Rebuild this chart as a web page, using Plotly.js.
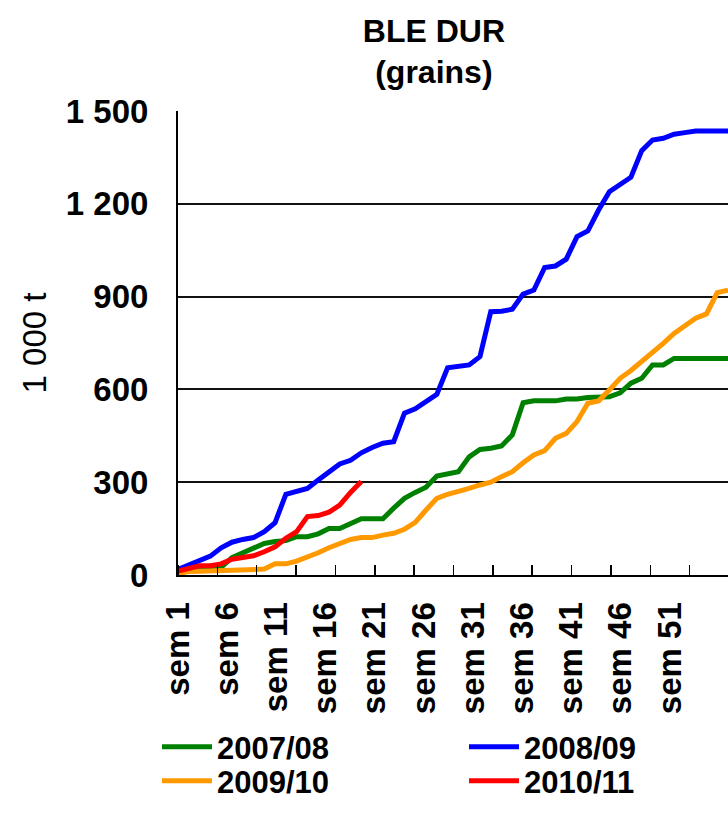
<!DOCTYPE html>
<html>
<head>
<meta charset="utf-8">
<script src="https://cdn.plot.ly/plotly-3.0.1.min.js"></script>
<style>html,body{margin:0;padding:0;background:#fff;}#chart{width:728px;height:823px;}</style>
</head>
<body>
<div id="chart"></div>
<script>
// Week index of each weekly point (data axis)
const weeks = [1,2,3,4,5,6,7,8,9,10,11,12,13,14,15,16,17,18,19,20,21,22,23,24,25,26,
  27,28,29,30,31,32,33,34,35,36,37,38,39,40,41,42,43,44,45,46,47,48,49,50,51,52];

// Cumulative values, 1 000 t
const s2007_08 = [10,18,22,24,25,56,72,88,102,108,111,124,124,133,150,150,164,182,182,182,
  216,248,267,284,320,326,334,382,406,410,417,453,557,563,563,563,569,569,574,576,
  576,589,620,636,679,679,700,700,700,700,700,700];
const s2008_09 = [18,32,45,61,88,106,115,121,140,169,261,272,280,307,331,359,371,395,412,426,
  431,523,537,560,584,670,673,679,706,851,853,859,908,921,994,999,1021,1094,1112,1180,
  1239,1261,1286,1372,1406,1412,1425,1430,1435,1435,1435,1435];
const s2009_10 = [5,11,12,13,14,14,19,19,19,36,36,45,57,72,88,102,115,121,121,129,
  135,148,170,210,248,261,269,280,291,300,318,334,363,388,402,442,458,496,555,563,
  598,636,661,690,717,749,781,805,830,844,913,921];
const s2010_11 = [13,21,30,30,36,51,56,62,75,91,119,140,189,192,203,226,267,302];

const seriesNames = ['2007/08','2008/09','2009/10','2010/11'];
const seriesColors = ['#008000','#0000FF','#FF9900','#FF0000'];

// Category axis labels
const labelVals = [1,6,11,16,21,26,31,36,41,46,51];
const labelText = ['sem 1','sem 6','sem 11','sem 16','sem 21','sem 26','sem 31','sem 36','sem 41','sem 46','sem 51'];

// Value axis ticks
const yVals = [0,300,600,900,1200,1500];
const yText = ['0','300','600','900','1 200','1 500'];

const FONT = 'Liberation Sans, Arial, sans-serif';
const allSeries = [s2007_08, s2008_09, s2009_10, s2010_11];
const legendIds = ['legend','legend','legend2','legend2'];

const traces = allSeries.map((ys, i) => ({
  type: 'scatter', mode: 'lines',
  x: weeks.slice(0, ys.length), y: ys,
  name: seriesNames[i],
  line: {color: seriesColors[i], width: 5},
  xaxis: 'x', yaxis: 'y',
  legend: legendIds[i],
  hoverinfo: 'skip'
}));
// empty trace attaching the label axis
traces.push({type:'scatter', mode:'lines', x: [], y: [], xaxis:'x2', yaxis:'y', showlegend:false});

const legendCommon = {
  orientation: 'h', xref: 'paper', yref: 'paper', x: -0.0382, xanchor: 'left',
  yanchor: 'middle', entrywidth: 242, itemwidth: 50,
  font: {family: FONT, size: 31, weight: 'bold', color: '#000'},
  bgcolor: 'rgba(0,0,0,0)', borderwidth: 0, traceorder: 'normal'
};

const layout = {
  width: 728, height: 823,
  margin: {l: 178, r: 0, t: 111, b: 248, autoexpand: false},
  paper_bgcolor: '#fff', plot_bgcolor: '#fff',
  font: {family: FONT, color: '#000'},
  title: {
    text: 'BLE DUR<br>(grains)',
    font: {family: FONT, size: 32, weight: 'bold', color: '#000'},
    xref: 'container', x: 0.596, xanchor: 'center',
    yref: 'container', y: 0.9495, yanchor: 'top'
  },
  xaxis: {
    range: [1, 52], visible: false, fixedrange: true
  },
  xaxis2: {
    overlaying: 'x', anchor: 'y', side: 'bottom',
    range: [1, 56.9], tickmode: 'array', tickvals: labelVals, ticktext: labelText,
    tickangle: -90, ticks: '', showgrid: false, zeroline: false,
    showline: true, linecolor: '#000', linewidth: 2,
    tickfont: {family: FONT, size: 33, weight: 'bold', color: '#000'},
    ticklabelstandoff: 12,
    minor: {tickmode: 'linear', tick0: 1, dtick: 4, ticks: 'inside', ticklen: 10, tickwidth: 1.5, tickcolor: '#000', showgrid: false}
  },
  yaxis: {
    range: [0, 1500], tickmode: 'array', tickvals: yVals, ticktext: yText,
    showgrid: true, gridcolor: '#111', gridwidth: 2, zeroline: false,
    showline: true, linecolor: '#000', linewidth: 2, ticks: '',
    tickfont: {family: FONT, size: 33, weight: 'bold', color: '#000'},
    ticklabelstandoff: 21,
    title: {text: '1 000 t', font: {family: FONT, size: 33, color: '#000'}, standoff: 9}
  },
  legend: Object.assign({}, legendCommon, {y: -0.3707}),
  legend2: Object.assign({}, legendCommon, {y: -0.444}),
  showlegend: true
};

Plotly.newPlot('chart', traces, layout, {displayModeBar: false, staticPlot: true});
</script>
</body>
</html>
